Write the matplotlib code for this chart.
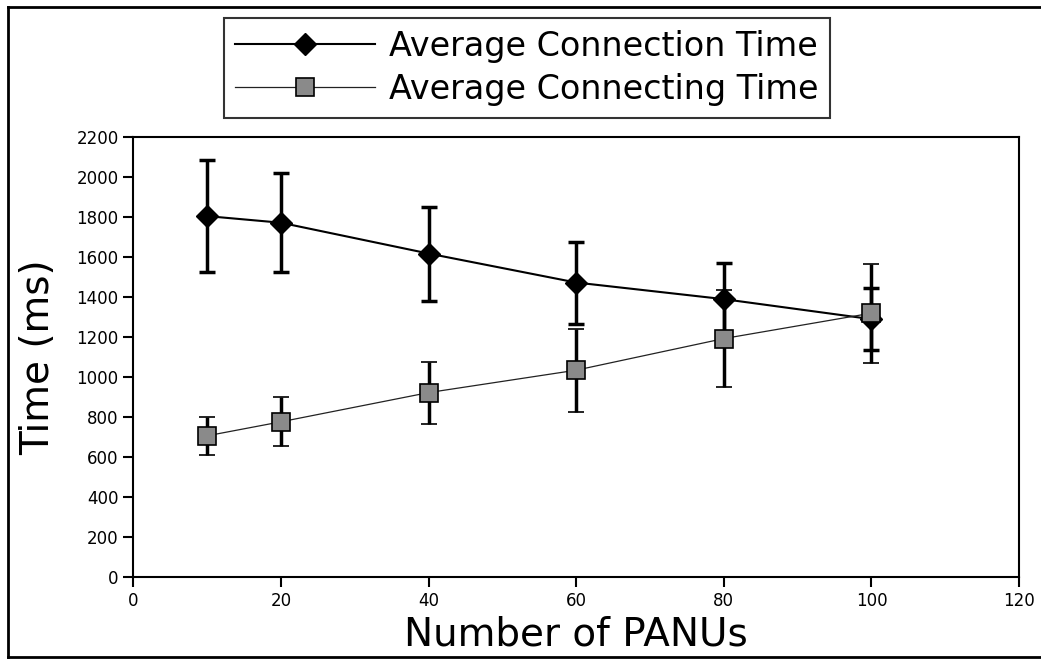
import matplotlib
matplotlib.use("Agg")
import matplotlib.pyplot as plt
from matplotlib.lines import Line2D

panus = [10, 20, 40, 60, 80, 100]
connection_time = [1805, 1772, 1618, 1473, 1390, 1290]
connection_err = [280, 247, 235, 205, 182, 154]
connecting_time = [707, 777, 923, 1035, 1193, 1320]
connecting_err = [95, 123, 155, 208, 241, 247]

labels = ["Average Connection Time", "Average Connecting Time"]
xticks = [0, 20, 40, 60, 80, 100, 120]
yticks = list(range(0, 2201, 200))

fig = plt.figure(figsize=(10.41, 6.59), dpi=100)
ax = fig.add_axes([0.128, 0.124, 0.851, 0.668])

style1 = dict(color="black", marker="D", markersize=11, linewidth=1.5)
style2 = dict(color="#222222", marker="s", markersize=13, markerfacecolor="#8a8a8a",
              markeredgecolor="black", markeredgewidth=1.2, linewidth=0.9)

ax.errorbar(panus, connection_time, yerr=connection_err, elinewidth=2.5,
            ecolor="black", capsize=6, capthick=2.5, zorder=3, **style1)
ax.errorbar(panus, connecting_time, yerr=connecting_err, elinewidth=2.5,
            ecolor="black", capsize=6, capthick=2.5, zorder=4, **style2)

ax.set_xlim(0, 120)
ax.set_ylim(0, 2200)
ax.set_xticks(xticks)
ax.set_yticks(yticks)
ax.tick_params(direction="out", length=7, width=1.5, labelsize=12,
               top=False, right=False)
for s in ax.spines.values():
    s.set_linewidth(1.5)
ax.set_xlabel("Number of PANUs", fontsize=28, labelpad=4)
ax.set_ylabel("Time (ms)", fontsize=28, labelpad=14)

handles = [Line2D([], [], **style1), Line2D([], [], **style2)]
leg = fig.legend(handles, labels, loc="center", bbox_to_anchor=(0.506, 0.897),
                 fontsize=24, handlelength=4.2, frameon=True, fancybox=False,
                 borderpad=0.35, labelspacing=0.3, handletextpad=0.4)
leg.get_frame().set_edgecolor("black")
leg.get_frame().set_linewidth(1.5)

# outer frame (left, top, bottom)
fig.add_artist(Line2D([0.008, 0.008], [0.003, 0.99], color="black", lw=2, transform=fig.transFigure))
fig.add_artist(Line2D([0.008, 1.0], [0.99, 0.99], color="black", lw=2, transform=fig.transFigure))
fig.add_artist(Line2D([0.008, 1.0], [0.003, 0.003], color="black", lw=2, transform=fig.transFigure))

fig.savefig("out.png", dpi=100)
